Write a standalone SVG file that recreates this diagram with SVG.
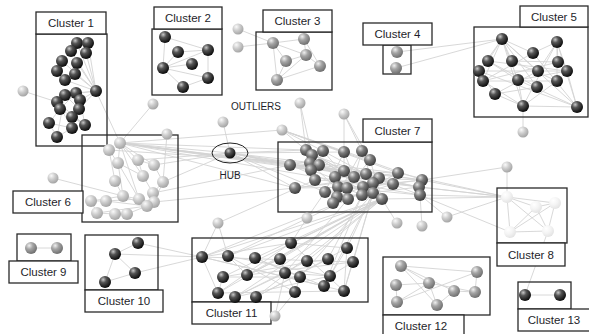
<svg xmlns="http://www.w3.org/2000/svg" width="589" height="334" viewBox="0 0 589 334">
<defs>
<radialGradient id="gd" cx="0.35" cy="0.3" r="0.75"><stop offset="0" stop-color="#c8c8c8"/><stop offset="0.35" stop-color="#555"/><stop offset="1" stop-color="#050505"/></radialGradient>
<radialGradient id="gm" cx="0.35" cy="0.3" r="0.75"><stop offset="0" stop-color="#e0e0e0"/><stop offset="0.4" stop-color="#7c7c7c"/><stop offset="1" stop-color="#363636"/></radialGradient>
<radialGradient id="gg" cx="0.35" cy="0.3" r="0.75"><stop offset="0" stop-color="#f0f0f0"/><stop offset="0.4" stop-color="#a5a5a5"/><stop offset="1" stop-color="#6a6a6a"/></radialGradient>
<radialGradient id="gl" cx="0.35" cy="0.3" r="0.75"><stop offset="0" stop-color="#fafafa"/><stop offset="0.45" stop-color="#cdcdcd"/><stop offset="1" stop-color="#a0a0a0"/></radialGradient>
<radialGradient id="gv" cx="0.35" cy="0.3" r="0.75"><stop offset="0" stop-color="#fff"/><stop offset="0.5" stop-color="#f4f4f4"/><stop offset="1" stop-color="#e2e2e2"/></radialGradient>
</defs>
<style>
.e{fill:none;stroke:#d4d4d4;stroke-width:0.9}
.b{fill:none;stroke:#2a2a2a;stroke-width:1.3}
.lb{fill:#fff;stroke:#2a2a2a;stroke-width:1.3}
.t{font-family:"Liberation Sans",Arial,sans-serif;font-size:11.5px;fill:#1e1e2a;text-anchor:middle}
.s{font-family:"Liberation Sans",Arial,sans-serif;font-size:10px;fill:#1e1e2a;text-anchor:middle}
.d{fill:url(#gd)}
.m{fill:url(#gm)}
.g{fill:url(#gg)}
.l{fill:url(#gl)}
.v{fill:url(#gv)}
</style>
<rect width="589" height="334" fill="#fff"/>
<g id="connectors">
<path class="e" d="M96 91L77 43M96 91L88 43M96 91L71 51M96 91L86 53M96 91L62 61M96 91L77 63M96 91L75 74M96 91L65 80M96 91L76 93M96 91L65 95M96 91L80 100M96 91L79 109M96 91L120 143M76 93L60 109M65 95L79 109M57 102L85 125M60 109L49 123M49 123L57 137M49 123L72 128M57 137L72 128M72 117L85 125M80 100L72 117M57 102L72 128M60 109L85 125M65 95L57 137M23 91L57 102M76 93L57 102M80 100L85 125"/>
<path class="e" d="M120 143L118 163M120 143L138 160M120 143L154 165M120 143L143 176M120 143L139 199M118 163L123 196M118 163L143 176M138 160L143 176M138 160L154 165M154 165L163 182M143 176L153 193M163 182L153 193M163 182L154 202M115 181L123 196M123 196L139 199M123 196L91 201M91 201L106 201M106 201L139 199M139 199L154 202M154 202L147 206M147 206L97 213M97 213L115 214M115 214L127 214M127 214L147 206M106 201L147 206M91 201L97 213M123 196L147 206M153 193L147 206M118 163L139 199M109 150L118 163M109 150L115 181M153 104L120 143M167 134L163 182M53 178L123 196"/>
<path class="e" d="M120 143L290 165M120 143L295 188M120 143L306 150M120 143L311 170M120 143L344 171M120 143L379 178M120 143L422 180M120 143L420 195M109 150L310 163M154 165L230 153M163 182L230 153M138 160L230 153M120 143L230 153M153 193L290 165M154 202L295 188"/>
<path class="e" d="M230 153L223 122M230 153L290 165M230 153L295 188M230 153L311 170M230 153L344 152M230 153L325 192M230 153L366 174M230 153L398 173M230 153L420 187M230 153L306 150"/>
<path class="e" d="M300 103L306 150M300 103L312 155M282 130L306 150M282 130L323 151M282 130L344 152M282 130L370 160M282 130L398 173M282 130L422 180M282 130L120 143M344 114L362 151M344 114L370 160M344 114L344 171"/>
<path class="e" d="M306 150L344 171M306 150L354 177M306 150L363 187M312 155L379 178M323 151L366 174M323 151L362 195M344 152L354 177M344 152L325 192M362 151L373 183M362 151L348 199M290 165L379 178M290 165L366 174M310 163L393 184M319 165L422 180M370 160L347 188M370 160L382 199M311 170L398 173M311 170L373 193M344 171L419 187M366 174L420 195M398 173L295 188M315 180L393 184M335 177L422 180M354 177L419 187M379 178L295 188M373 183L337 197M393 184L333 203M422 180L325 192M295 188L363 187M325 192L382 199M338 187L420 195M347 188L422 180M419 187L337 197M348 199L398 173M362 195L290 165M373 193L306 150M333 203L362 151M312 155L347 188M310 163L348 199"/>
<path class="e" d="M422 180L507 197M419 187L507 197M420 195L507 197M398 173L507 197M393 184L507 197M420 195L510 232M422 180L507 167M447 217L507 197M447 217L420 195M507 167L507 197M422 226L420 195M397 223L382 199M382 199L507 197"/>
<path class="e" d="M382 199L291 243M382 199L202 257M382 199L228 256M382 199L255 258M382 199L280 259M382 199L223 277M382 199L247 275M382 199L218 293M382 199L235 297M382 199L256 297M382 199L307 261M348 199L202 257M348 199L228 256M348 199L285 273M373 193L347 248M373 193L353 262M373 193L300 277M373 193L330 276M373 193L344 291M362 195L328 259M362 195L324 286"/>
<path class="e" d="M202 257L353 262M202 257L344 291M228 256L330 276M255 258L324 286M280 259L295 292M223 277L328 259M247 275L353 262M218 293L344 291M235 297L330 276M256 297L347 248M202 257L218 293M223 277L218 293M228 256L247 275M285 273L330 276M300 277L295 292M291 243L218 293M291 243L344 291M347 248L344 291M353 262L344 291M307 261L235 297M328 259L256 297M285 273L235 297M300 277L223 277M280 259L247 275M255 258L300 277M324 286L202 257M295 292L228 256M330 276L353 262M347 248L324 286M202 257L291 243M291 243L347 248"/>
<path class="e" d="M138 243L115 254M115 254L135 273M115 254L105 282M105 282L135 273M115 254L202 257M135 273L202 257M138 243L202 257M31 248L57 248M218 223L228 256M218 223L202 257M218 223L315 180M307 218L291 243M307 218L325 192M275 316L285 273M275 316L295 292"/>
<path class="e" d="M507 197L536 207M507 197L555 203M507 197L510 232M507 197L548 231M536 207L555 203M536 207L510 232M536 207L548 231M555 203L548 231M510 232L548 231M555 203L510 232M548 231L525 295M525 295L560 295"/>
<path class="e" d="M401 266L477 272M401 266L429 283M401 266L437 305M401 266L454 291M396 285L429 283M397 302L429 283M397 302L477 272M429 283L437 305M437 305L454 291M454 291L475 292M475 292L477 272M429 283L475 292M396 285L397 302"/>
<path class="e" d="M502 39L533 53M502 39L488 61M502 39L512 61M502 39L479 71M502 39L538 71M502 39L483 81M502 39L518 80M502 39L537 87M502 39L523 106M557 42L533 53M557 42L558 62M557 42L538 71M557 42L567 71M557 42L557 81M557 42L577 107M488 61L567 71M512 61L557 81M479 71L567 71M479 71L577 107M483 81L557 81M518 80L577 107M495 94L523 106M523 106L577 107M537 87L495 94M558 62L483 81M538 71L495 94M533 53L483 81M557 81L523 106M567 71L577 107M479 71L495 94M488 61L537 87M518 80L523 106M512 61L558 62M483 81L523 106M533 53L577 107M488 61L518 80M518 80L567 71M523 106L523 132M502 39L577 107M557 42L523 106M397 52L502 39M396 68L502 39"/>
<path class="e" d="M165 37L208 50M165 37L163 68M163 68L208 50M163 68L178 52M163 68L192 64M163 68L208 78M163 68L183 87M183 87L208 78M208 78L208 50M178 52L208 50"/>
<path class="e" d="M273 43L304 39M273 43L306 55M273 43L277 80M273 43L286 61M304 39L306 55M306 55L320 66M304 39L320 66M286 61L306 55M286 61L277 80M277 80L320 66M277 80L306 55M238 29L273 43M238 47L273 43"/>
</g>
<g id="cluster1">
<rect class="b" x="36" y="34" width="71" height="112"/>
<rect class="lb" x="36" y="12" width="70" height="22"/><text class="t" x="71" y="27">Cluster 1</text>
<circle class="d" cx="77" cy="43" r="6"/><circle class="d" cx="88" cy="43" r="6"/><circle class="d" cx="71" cy="51" r="6"/><circle class="d" cx="86" cy="53" r="6"/><circle class="d" cx="62" cy="61" r="6"/><circle class="d" cx="77" cy="63" r="6"/><circle class="d" cx="57" cy="71" r="6"/><circle class="d" cx="75" cy="74" r="6"/><circle class="d" cx="65" cy="80" r="6"/><circle class="d" cx="96" cy="91" r="6"/><circle class="d" cx="76" cy="93" r="6"/><circle class="d" cx="65" cy="95" r="6"/><circle class="d" cx="57" cy="102" r="6"/><circle class="d" cx="80" cy="100" r="6"/><circle class="d" cx="60" cy="109" r="6"/><circle class="d" cx="79" cy="109" r="6"/><circle class="d" cx="72" cy="117" r="6"/><circle class="d" cx="49" cy="123" r="6"/><circle class="d" cx="85" cy="125" r="6"/><circle class="d" cx="72" cy="128" r="6"/><circle class="d" cx="57" cy="137" r="6"/>
</g>
<g id="cluster2">
<rect class="b" x="152" y="29" width="70" height="66"/>
<rect class="lb" x="154" y="7" width="68" height="22"/><text class="t" x="188" y="22">Cluster 2</text>
<circle class="d" cx="165" cy="37" r="6"/><circle class="d" cx="178" cy="52" r="6"/><circle class="d" cx="208" cy="50" r="6"/><circle class="d" cx="192" cy="64" r="6"/><circle class="d" cx="163" cy="68" r="6"/><circle class="d" cx="208" cy="78" r="6"/><circle class="d" cx="183" cy="87" r="6"/>
</g>
<g id="cluster3">
<rect class="b" x="256" y="32" width="76" height="58"/>
<rect class="lb" x="263" y="10" width="69" height="22"/><text class="t" x="297.5" y="25">Cluster 3</text>
<circle class="g" cx="273" cy="43" r="6"/><circle class="g" cx="304" cy="39" r="6"/><circle class="g" cx="306" cy="55" r="6"/><circle class="g" cx="286" cy="61" r="6"/><circle class="g" cx="320" cy="66" r="6"/><circle class="g" cx="277" cy="80" r="6"/>
</g>
<g id="cluster4">
<rect class="b" x="383" y="45" width="28" height="29"/>
<rect class="lb" x="363" y="23" width="69" height="22"/><text class="t" x="397.5" y="38">Cluster 4</text>
<circle class="g" cx="397" cy="52" r="6"/><circle class="g" cx="396" cy="68" r="6"/>
</g>
<g id="cluster5">
<rect class="b" x="474" y="27" width="114" height="90"/>
<rect class="lb" x="520" y="6" width="68" height="21"/><text class="t" x="554" y="21">Cluster 5</text>
<circle class="d" cx="502" cy="39" r="6"/><circle class="d" cx="557" cy="42" r="6"/><circle class="d" cx="533" cy="53" r="6"/><circle class="d" cx="488" cy="61" r="6"/><circle class="d" cx="512" cy="61" r="6"/><circle class="d" cx="558" cy="62" r="6"/><circle class="d" cx="479" cy="71" r="6"/><circle class="d" cx="538" cy="71" r="6"/><circle class="d" cx="567" cy="71" r="6"/><circle class="d" cx="483" cy="81" r="6"/><circle class="d" cx="518" cy="80" r="6"/><circle class="d" cx="557" cy="81" r="6"/><circle class="d" cx="537" cy="87" r="6"/><circle class="d" cx="495" cy="94" r="6"/><circle class="d" cx="523" cy="106" r="6"/><circle class="d" cx="577" cy="107" r="6"/>
</g>
<g id="cluster6">
<rect class="b" x="82" y="135" width="96" height="87"/>
<rect class="lb" x="13" y="191" width="70" height="22"/><text class="t" x="48" y="206">Cluster 6</text>
<circle class="l" cx="120" cy="143" r="6"/><circle class="l" cx="109" cy="150" r="6"/><circle class="l" cx="118" cy="163" r="6"/><circle class="l" cx="138" cy="160" r="6"/><circle class="l" cx="154" cy="165" r="6"/><circle class="l" cx="143" cy="176" r="6"/><circle class="l" cx="163" cy="182" r="6"/><circle class="l" cx="115" cy="181" r="6"/><circle class="l" cx="123" cy="196" r="6"/><circle class="l" cx="153" cy="193" r="6"/><circle class="l" cx="139" cy="199" r="6"/><circle class="l" cx="154" cy="202" r="6"/><circle class="l" cx="147" cy="206" r="6"/><circle class="l" cx="91" cy="201" r="6"/><circle class="l" cx="106" cy="201" r="6"/><circle class="l" cx="97" cy="213" r="6"/><circle class="l" cx="115" cy="214" r="6"/><circle class="l" cx="127" cy="214" r="6"/>
</g>
<g id="cluster7">
<rect class="b" x="278" y="142" width="154" height="70"/>
<rect class="lb" x="363" y="119" width="69" height="23"/><text class="t" x="397.5" y="135">Cluster 7</text>
<circle class="m" cx="306" cy="150" r="6"/><circle class="m" cx="312" cy="155" r="6"/><circle class="m" cx="323" cy="151" r="6"/><circle class="m" cx="344" cy="152" r="6"/><circle class="m" cx="362" cy="151" r="6"/><circle class="m" cx="290" cy="165" r="6"/><circle class="m" cx="310" cy="163" r="6"/><circle class="m" cx="319" cy="165" r="6"/><circle class="m" cx="370" cy="160" r="6"/><circle class="m" cx="311" cy="170" r="6"/><circle class="m" cx="344" cy="171" r="6"/><circle class="m" cx="366" cy="174" r="6"/><circle class="m" cx="398" cy="173" r="6"/><circle class="m" cx="315" cy="180" r="6"/><circle class="m" cx="335" cy="177" r="6"/><circle class="m" cx="354" cy="177" r="6"/><circle class="m" cx="379" cy="178" r="6"/><circle class="m" cx="373" cy="183" r="6"/><circle class="m" cx="393" cy="184" r="6"/><circle class="m" cx="422" cy="180" r="6"/><circle class="m" cx="295" cy="188" r="6"/><circle class="m" cx="325" cy="192" r="6"/><circle class="m" cx="338" cy="187" r="6"/><circle class="m" cx="347" cy="188" r="6"/><circle class="m" cx="363" cy="187" r="6"/><circle class="m" cx="419" cy="187" r="6"/><circle class="m" cx="337" cy="197" r="6"/><circle class="m" cx="348" cy="199" r="6"/><circle class="m" cx="362" cy="195" r="6"/><circle class="m" cx="373" cy="193" r="6"/><circle class="m" cx="382" cy="199" r="6"/><circle class="m" cx="420" cy="195" r="6"/><circle class="m" cx="333" cy="203" r="6"/>
</g>
<g id="cluster8">
<rect class="b" x="497" y="188" width="70" height="55"/>
<rect class="lb" x="497" y="243" width="68" height="23"/><text class="t" x="531" y="259">Cluster 8</text>
<circle class="v" cx="507" cy="197" r="6"/><circle class="v" cx="536" cy="207" r="6"/><circle class="v" cx="555" cy="203" r="6"/><circle class="v" cx="510" cy="232" r="6"/><circle class="v" cx="548" cy="231" r="6"/>
</g>
<g id="cluster9">
<rect class="b" x="17" y="234" width="54" height="27"/>
<rect class="lb" x="9" y="261" width="69" height="22"/><text class="t" x="43.5" y="276">Cluster 9</text>
<circle class="g" cx="31" cy="248" r="6"/><circle class="g" cx="57" cy="248" r="6"/>
</g>
<g id="cluster10">
<rect class="b" x="85" y="235" width="73" height="55"/>
<rect class="lb" x="85" y="290" width="78" height="22"/><text class="t" x="124" y="305">Cluster 10</text>
<circle class="d" cx="138" cy="243" r="6"/><circle class="d" cx="115" cy="254" r="6"/><circle class="d" cx="135" cy="273" r="6"/><circle class="d" cx="105" cy="282" r="6"/>
</g>
<g id="cluster11">
<rect class="b" x="192" y="238" width="176" height="64"/>
<rect class="lb" x="192" y="302" width="79" height="22"/><text class="t" x="231.5" y="317">Cluster 11</text>
<circle class="d" cx="291" cy="243" r="6"/><circle class="d" cx="347" cy="248" r="6"/><circle class="d" cx="202" cy="257" r="6"/><circle class="d" cx="228" cy="256" r="6"/><circle class="d" cx="255" cy="258" r="6"/><circle class="d" cx="280" cy="259" r="6"/><circle class="d" cx="307" cy="261" r="6"/><circle class="d" cx="328" cy="259" r="6"/><circle class="d" cx="353" cy="262" r="6"/><circle class="d" cx="223" cy="277" r="6"/><circle class="d" cx="247" cy="275" r="6"/><circle class="d" cx="285" cy="273" r="6"/><circle class="d" cx="300" cy="277" r="6"/><circle class="d" cx="330" cy="276" r="6"/><circle class="d" cx="324" cy="286" r="6"/><circle class="d" cx="218" cy="293" r="6"/><circle class="d" cx="235" cy="297" r="6"/><circle class="d" cx="256" cy="297" r="6"/><circle class="d" cx="295" cy="292" r="6"/><circle class="d" cx="344" cy="291" r="6"/>
</g>
<g id="cluster12">
<rect class="b" x="383" y="257" width="107" height="58"/>
<rect class="lb" x="383" y="315" width="81" height="22"/><text class="t" x="421" y="330">Cluster 12</text>
<circle class="g" cx="401" cy="266" r="6"/><circle class="g" cx="477" cy="272" r="6"/><circle class="g" cx="396" cy="285" r="6"/><circle class="g" cx="429" cy="283" r="6"/><circle class="g" cx="454" cy="291" r="6"/><circle class="g" cx="475" cy="292" r="6"/><circle class="g" cx="397" cy="302" r="6"/><circle class="g" cx="437" cy="305" r="6"/>
</g>
<g id="cluster13">
<rect class="b" x="518" y="282" width="53" height="27"/>
<rect class="lb" x="518" y="309" width="72" height="22"/><text class="t" x="554" y="324">Cluster 13</text>
<circle class="d" cx="525" cy="295" r="6"/><circle class="d" cx="560" cy="295" r="6"/>
</g>
<g id="hub">
<ellipse cx="230" cy="153" rx="18" ry="10" fill="none" stroke="#222" stroke-width="1"/>
<circle class="d" cx="230" cy="153" r="5.5"/>
<text class="s" x="230" y="179">HUB</text>
</g>
<g id="outliers">
<text class="s" x="256" y="110">OUTLIERS</text>
<circle class="l" cx="223" cy="122" r="5.5"/><circle class="l" cx="300" cy="103" r="5.5"/><circle class="l" cx="282" cy="130" r="5.5"/><circle class="l" cx="344" cy="114" r="5.5"/><circle class="l" cx="153" cy="104" r="5.5"/><circle class="l" cx="167" cy="134" r="5.5"/><circle class="l" cx="23" cy="91" r="5.5"/><circle class="l" cx="53" cy="178" r="5.5"/><circle class="l" cx="238" cy="29" r="5.5"/><circle class="l" cx="238" cy="47" r="5.5"/><circle class="l" cx="523" cy="132" r="5.5"/><circle class="l" cx="507" cy="167" r="5.5"/><circle class="l" cx="218" cy="223" r="5.5"/><circle class="l" cx="307" cy="218" r="5.5"/><circle class="l" cx="397" cy="223" r="5.5"/><circle class="l" cx="422" cy="226" r="5.5"/><circle class="l" cx="447" cy="217" r="5.5"/><circle class="l" cx="275" cy="316" r="5.5"/>
</g>
</svg>
